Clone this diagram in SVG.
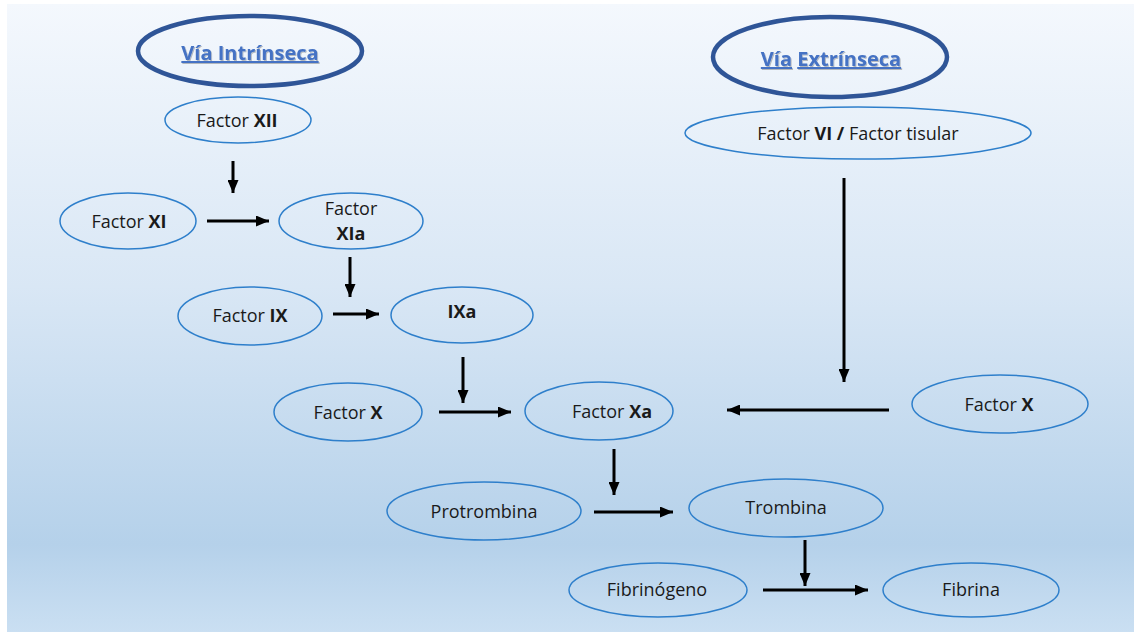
<svg xmlns="http://www.w3.org/2000/svg" width="1134" height="632" viewBox="0 0 1134 632">
<defs>
<linearGradient id="bg" x1="0" y1="0" x2="0" y2="1">
<stop offset="0" stop-color="#f4f8fd"/>
<stop offset="0.45" stop-color="#d9e7f5"/>
<stop offset="0.86" stop-color="#b5d1ea"/>
<stop offset="1" stop-color="#cadff2"/>
</linearGradient>
<marker id="ah" viewBox="0 0 13 11" refX="13" refY="5.5" markerWidth="13" markerHeight="11" markerUnits="userSpaceOnUse" orient="auto">
<path d="M0,0 L13,5.5 L0,11 Z" fill="#000"/>
</marker>
<filter id="sh" x="-10%" y="-30%" width="120%" height="160%">
<feDropShadow dx="1" dy="1" stdDeviation="0.6" flood-color="#000" flood-opacity="0.25"/>
</filter>
</defs>
<style>
.n{fill:none;stroke:#2e7fcb;stroke-width:1.5}
.t{fill:none;stroke:#2f5597;stroke-width:4.5}
.l{font-family:"Open Sans","Noto Sans",sans-serif;font-size:18px;fill:#1a1a1a;text-anchor:middle}
.b{font-weight:bold}
.h{font-family:"Open Sans","Noto Sans",sans-serif;font-size:20px;font-weight:bold;fill:#4472c4;text-anchor:middle;filter:url(#sh)}
.u{text-decoration:underline}
.c{stroke:#000;stroke-width:3;fill:none;marker-end:url(#ah)}
</style>
<rect x="7" y="4" width="1127" height="628" fill="url(#bg)"/>
<g id="via-intrinseca"><ellipse class="t" cx="250" cy="51" rx="112" ry="35"/><text class="h u" x="250" y="60">Vía Intrínseca</text></g>
<g id="via-extrinseca"><ellipse class="t" cx="830" cy="57" rx="117" ry="40"/><text class="h" x="831" y="66"><tspan class="u">Vía</tspan> <tspan class="u">Extrínseca</tspan></text></g>
<g id="factor-xii"><ellipse class="n" cx="238" cy="120" rx="73" ry="23"/><text class="l" x="237" y="127">Factor <tspan class="b">XII</tspan></text></g>
<g id="factor-vi"><ellipse class="n" cx="858" cy="133" rx="173" ry="26"/><text class="l" x="858" y="140">Factor <tspan class="b">VI /</tspan> Factor tisular</text></g>
<g id="factor-xi"><ellipse class="n" cx="128" cy="221" rx="68" ry="28"/><text class="l" x="129" y="228">Factor <tspan class="b">XI</tspan></text></g>
<g id="factor-xia"><ellipse class="n" cx="351" cy="221" rx="72" ry="28"/><text class="l" x="351" y="215">Factor</text><text class="l b" x="351" y="240">XIa</text></g>
<g id="factor-ix"><ellipse class="n" cx="250" cy="316" rx="72" ry="29"/><text class="l" x="250" y="322">Factor <tspan class="b">IX</tspan></text></g>
<g id="factor-ixa"><ellipse class="n" cx="462" cy="315" rx="71" ry="28"/><text class="l b" x="462" y="318">IXa</text></g>
<g id="factor-x-left"><ellipse class="n" cx="348" cy="412" rx="74" ry="29"/><text class="l" x="348" y="419">Factor <tspan class="b">X</tspan></text></g>
<g id="factor-xa"><ellipse class="n" cx="599" cy="411" rx="74" ry="29"/><text class="l" x="612" y="418">Factor <tspan class="b">Xa</tspan></text></g>
<g id="factor-x-right"><ellipse class="n" cx="1000" cy="404" rx="88" ry="29"/><text class="l" x="999" y="411">Factor <tspan class="b">X</tspan></text></g>
<g id="protrombina"><ellipse class="n" cx="484" cy="511" rx="97" ry="29"/><text class="l" x="484" y="518">Protrombina</text></g>
<g id="trombina"><ellipse class="n" cx="786" cy="508" rx="97" ry="29"/><text class="l" x="786" y="514">Trombina</text></g>
<g id="fibrinogeno"><ellipse class="n" cx="658" cy="590" rx="89" ry="27"/><text class="l" x="657" y="596">Fibrinógeno</text></g>
<g id="fibrina"><ellipse class="n" cx="971" cy="590" rx="88" ry="27"/><text class="l" x="971" y="596">Fibrina</text></g>
<g id="connectors">
<line class="c" x1="233" y1="161" x2="233" y2="193"/>
<line class="c" x1="207" y1="221" x2="269" y2="221"/>
<line class="c" x1="350" y1="257" x2="350" y2="297"/>
<line class="c" x1="333" y1="314" x2="379" y2="314"/>
<line class="c" x1="463" y1="357" x2="463" y2="403"/>
<line class="c" x1="439" y1="412" x2="511" y2="412"/>
<line class="c" x1="844" y1="178" x2="844" y2="382"/>
<line class="c" x1="889" y1="410" x2="727" y2="410"/>
<line class="c" x1="614" y1="449" x2="614" y2="495"/>
<line class="c" x1="594" y1="512" x2="673" y2="512"/>
<line class="c" x1="805" y1="540" x2="805" y2="586"/>
<line class="c" x1="763" y1="590" x2="868" y2="590"/>
</g>
</svg>
